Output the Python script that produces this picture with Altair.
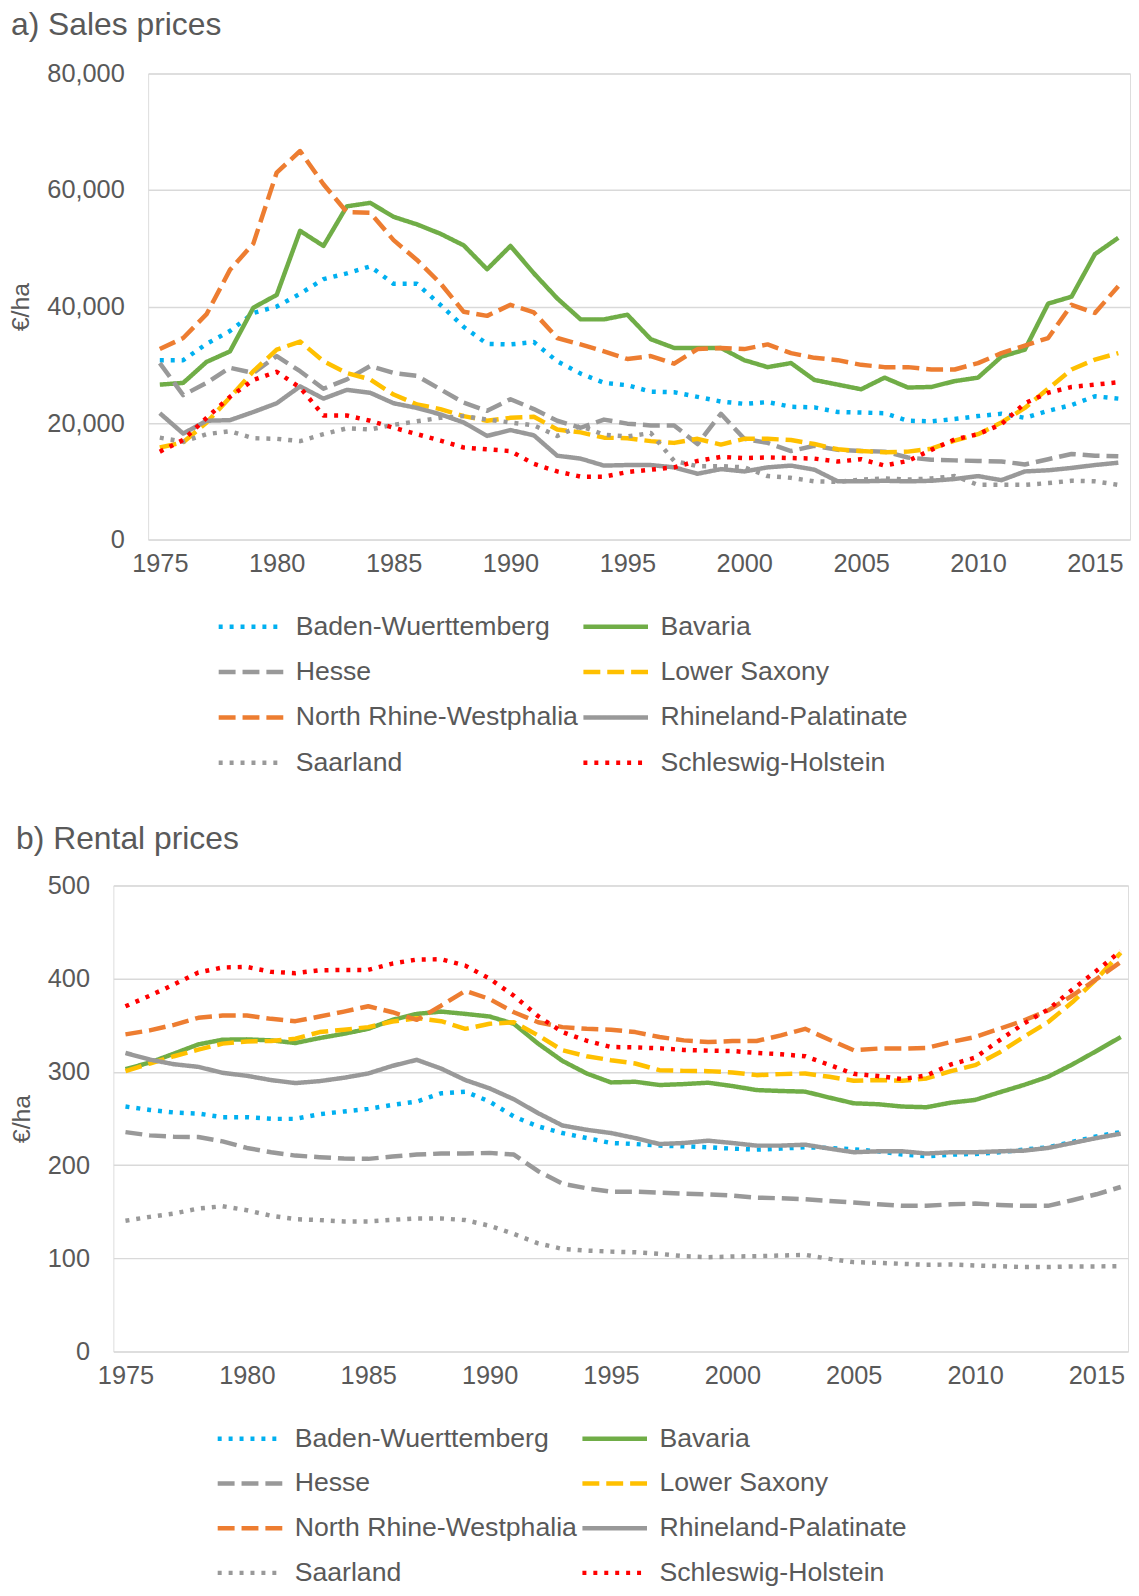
import altair as alt
import pandas as pd

FONT = "Liberation Sans"
TXT = "#595959"

years = list(range(1975, 2017))
states = ["Baden-Wuerttemberg", "Bavaria", "Hesse", "Lower Saxony",
          "North Rhine-Westphalia", "Rhineland-Palatinate", "Saarland", "Schleswig-Holstein"]
colors = ["#00B0F0", "#70AD47", "#999999", "#FFC000", "#ED7D31", "#999999", "#999999", "#FF0000"]
dashes = [[4, 7], [1, 0], [17, 7], [17, 7], [17, 7], [1, 0], [4, 7], [4, 7]]

# a) Sales prices (EUR/ha)
sales_bw = [30800, 30800, 33600, 35800, 38900, 40000, 42200, 44700, 45700, 46900, 43900, 43900, 40300, 36500,
            33600, 33500, 33900, 30600, 28500, 26900, 26500, 25400, 25300, 24500, 23700, 23300, 23600, 22800,
            22700, 21900, 21800, 21700, 20400, 20300, 20700, 21200, 21600, 20900, 22100, 23100, 24600, 24200]
sales_by = [26600, 26900, 30500, 32300, 39800, 42000, 53000, 50400, 57200, 57800, 55400, 54100, 52500, 50500,
            46400, 50400, 45700, 41400, 37800, 37800, 38600, 34400, 32900, 32900, 32900, 30800, 29600, 30300,
            27400, 26600, 25800, 27800, 26100, 26200, 27200, 27800, 31400, 32600, 40500, 41700, 49000, 51800]
sales_he = [30300, 24800, 26900, 29500, 28600, 31500, 28900, 25900, 27500, 29800, 28600, 28100, 25800, 23500,
            22100, 24100, 22400, 20400, 19200, 20600, 19900, 19600, 19600, 16400, 21600, 17300, 16600, 15200,
            16100, 15400, 15200, 15100, 14100, 13700, 13600, 13500, 13400, 12900, 13800, 14700, 14400, 14300]
sales_ls = [15800, 16700, 20100, 24400, 28900, 32600, 34000, 30600, 28600, 27500, 24900, 23200, 22400, 21200,
            20400, 20900, 21100, 18900, 18400, 17500, 17400, 16900, 16600, 17300, 16300, 17300, 17300, 17100,
            16400, 15500, 15200, 15000, 15100, 15600, 17000, 18100, 20100, 22600, 25900, 29200, 30900, 32000]
sales_nrw = [32700, 34600, 38700, 46300, 50800, 63000, 66700, 61000, 56200, 56100, 51400, 48000, 44000, 39100,
             38400, 40300, 39000, 34600, 33500, 32300, 31000, 31500, 30200, 32700, 32900, 32700, 33500, 32000,
             31200, 30800, 30000, 29600, 29600, 29200, 29200, 30300, 32000, 33300, 34600, 40300, 38900, 43500]
sales_rp = [21700, 18200, 20400, 20500, 21900, 23400, 26300, 24200, 25700, 25200, 23400, 22600, 21500, 20100,
            17800, 18800, 17900, 14400, 13900, 12700, 12800, 12800, 12400, 11300, 12100, 11700, 12400, 12700,
            12000, 10000, 10000, 10100, 10000, 10100, 10400, 10900, 10200, 11700, 11900, 12300, 12800, 13200]
sales_sl = [17500, 16800, 18100, 18600, 17400, 17300, 16900, 18100, 19100, 18900, 19700, 20300, 20900, 21200,
            20600, 20100, 19600, 17800, 19500, 18000, 17700, 18300, 13500, 12600, 12600, 12400, 10900, 10600,
            10000, 9900, 10300, 10500, 10300, 10500, 10900, 9400, 9400, 9400, 9700, 10100, 10000, 9400]
sales_sh = [15100, 17100, 20900, 24500, 27400, 28800, 26100, 21300, 21300, 20400, 19200, 18100, 17000, 15800,
            15500, 15200, 13000, 11700, 10800, 10800, 11600, 12000, 12400, 13500, 14200, 14000, 14100, 14000,
            13900, 13400, 13800, 12700, 13500, 15400, 17200, 18100, 19800, 23400, 25200, 26200, 26600, 27000]

# b) Rental prices (EUR/ha)
rent_bw = [262.8, 259.2, 256.4, 255.3, 251.4, 251.4, 249.6, 249.6, 254.6, 257.5, 260.3, 264.6, 268.1, 277.0,
           278.8, 268.1, 252.1, 241.5, 234.4, 229.0, 223.7, 222.6, 220.9, 220.2, 219.1, 217.7, 216.6, 217.7,
           219.1, 218.4, 217.0, 214.8, 211.3, 209.5, 211.3, 212.0, 213.8, 216.6, 219.1, 224.8, 230.8, 235.4]
rent_by = [302.9, 310.0, 319.6, 329.5, 334.5, 334.9, 333.8, 331.0, 336.3, 340.9, 346.2, 355.8, 362.2, 364.7,
           362.2, 359.4, 351.6, 330.3, 311.8, 298.3, 288.7, 289.4, 285.9, 286.9, 288.4, 284.8, 280.5, 279.5,
           278.8, 272.4, 266.3, 265.3, 262.8, 262.1, 267.0, 269.9, 278.0, 285.9, 294.7, 307.9, 322.4, 337.4]
rent_he = [235.4, 231.9, 230.5, 230.1, 225.5, 218.4, 213.8, 210.2, 208.5, 207.0, 206.7, 209.2, 211.3, 212.4,
           212.4, 213.1, 211.3, 193.5, 180.0, 175.1, 171.5, 171.5, 170.5, 169.4, 168.7, 167.3, 165.1, 164.4,
           163.4, 161.6, 159.8, 158.0, 156.3, 156.3, 158.0, 158.7, 157.3, 156.3, 156.3, 162.3, 168.7, 176.5]
rent_ls = [300.8, 309.0, 316.8, 323.9, 330.3, 332.7, 333.1, 335.6, 342.7, 345.2, 348.0, 354.0, 357.6, 354.4,
           346.2, 351.6, 353.3, 339.1, 323.2, 316.8, 312.5, 309.0, 301.8, 301.1, 300.8, 299.4, 296.5, 297.6,
           298.3, 294.7, 290.5, 291.2, 290.5, 293.0, 300.8, 307.2, 320.7, 337.4, 353.3, 374.6, 399.5, 427.9]
rent_nrw = [340.2, 344.5, 350.5, 358.0, 360.4, 360.4, 356.9, 354.4, 359.4, 364.7, 370.4, 364.0, 355.8, 371.0,
            387.0, 378.2, 364.0, 353.3, 348.0, 346.2, 345.2, 342.7, 337.4, 333.8, 332.0, 333.1, 333.1, 339.1,
            346.2, 334.5, 323.2, 325.0, 325.0, 325.6, 332.0, 337.4, 346.2, 355.1, 365.8, 381.7, 399.5, 418.0]
rent_rp = [320.3, 313.2, 308.2, 305.4, 299.0, 295.8, 291.2, 288.0, 290.1, 293.7, 298.3, 306.5, 312.9, 303.6,
           291.2, 282.3, 270.6, 255.7, 242.5, 237.9, 234.4, 229.0, 222.6, 223.7, 226.2, 223.7, 220.9, 220.9,
           221.9, 217.7, 213.8, 214.8, 214.8, 212.4, 213.8, 213.8, 214.8, 215.5, 218.4, 223.7, 229.0, 233.7]
rent_sl = [140.3, 144.5, 148.1, 153.4, 155.9, 151.6, 145.6, 142.0, 141.0, 139.6, 139.6, 141.3, 142.8, 142.8,
           141.0, 134.9, 126.1, 116.1, 110.1, 108.3, 107.2, 106.5, 104.8, 102.3, 101.2, 101.9, 102.3, 103.0,
           103.7, 99.4, 95.9, 95.2, 94.1, 93.0, 93.4, 92.3, 91.6, 90.6, 90.6, 91.3, 91.3, 91.6]
rent_sh = [370.4, 381.7, 393.8, 406.6, 412.0, 412.6, 407.3, 405.9, 409.0, 409.4, 409.4, 416.2, 420.5, 420.8,
           414.0, 400.0, 381.7, 359.7, 342.7, 333.4, 326.7, 326.3, 325.3, 323.5, 322.8, 322.4, 320.3, 318.9,
           316.8, 307.5, 297.9, 295.5, 292.3, 296.2, 307.9, 315.3, 333.8, 351.6, 366.8, 388.1, 408.4, 429.7]

sales = [sales_bw, sales_by, sales_he, sales_ls, sales_nrw, sales_rp, sales_sl, sales_sh]
rent = [rent_bw, rent_by, rent_he, rent_ls, rent_nrw, rent_rp, rent_sl, rent_sh]

x_ticks = list(range(1975, 2016, 5))
y_ticks_a = [0, 20000, 40000, 60000, 80000]
y_ticks_b = [0, 100, 200, 300, 400, 500]


def to_long(series):
    rows = []
    for k, (s, vals) in enumerate(zip(states, series)):
        for y, v in zip(years, vals):
            rows.append({"year": y, "state": s, "value": v, "order": k})
    return pd.DataFrame(rows)


def panel(series, ticks, fmt, title, title_offset, title_dx, width, x_max, legend_x, legend_y, row_pad):
    leg = alt.Legend(orient="none", legendX=legend_x, legendY=legend_y, columns=2, direction="horizontal",
                     title=None, symbolType="M-1,0H4.2", symbolSize=625, symbolStrokeWidth=4.5,
                     labelFontSize=26.8, labelFont=FONT, labelColor=TXT, labelOffset=50,
                     columnPadding=-4, rowPadding=row_pad, labelLimit=500, padding=0)
    return alt.Chart(to_long(series)).mark_line(strokeWidth=4.5, strokeJoin="round").encode(
        x=alt.X("year:Q", scale=alt.Scale(domain=[1974.5, x_max], nice=False, zero=False),
                axis=alt.Axis(values=x_ticks, format="d", grid=False, domain=False, ticks=False,
                              labelFontSize=25.5, labelFont=FONT, labelColor=TXT, labelPadding=12,
                              title=None, labelFlush=False)),
        y=alt.Y("value:Q", scale=alt.Scale(domain=[ticks[0], ticks[-1]], nice=False),
                axis=alt.Axis(values=ticks, format=fmt, gridColor="#D9D9D9", gridWidth=1.5,
                              domain=False, ticks=False, labelFontSize=25.5, labelFont=FONT,
                              labelColor=TXT, labelPadding=24, title="€/ha", titleFontSize=25,
                              titleFont=FONT, titleColor=TXT, titleFontWeight="normal",
                              titlePadding=13)),
        color=alt.Color("state:N", scale=alt.Scale(domain=states, range=colors), legend=leg),
        strokeDash=alt.StrokeDash("state:N", scale=alt.Scale(domain=states, range=dashes), legend=leg),
        order=alt.Order("order:Q"),
        detail="state:N",
    ).properties(
        width=width, height=469,
        title=alt.TitleParams(title, anchor="start", frame="bounds", fontSize=32, font=FONT,
                              color=TXT, fontWeight="normal", offset=title_offset, dx=title_dx),
    )


def spacer():
    return alt.Chart(pd.DataFrame({"v": [0]})).mark_point(opacity=0, size=0, strokeWidth=0).encode(
        x=alt.X("v:Q", axis=None), y=alt.Y("v:Q", axis=None)
    ).properties(width=1, height=1)


chart_a = panel(sales, y_ticks_a, ",.0f", "a) Sales prices", 20, 2, 988, 2016.5, 68.5, 541.5, 16.7)
chart_b = panel(rent, y_ticks_b, "d", "b) Rental prices", 17.5, 6.7, 1021, 2016.3, 102.5, 541.7, 16)

row_a = alt.hconcat(spacer(), chart_a, spacing=0).resolve_scale(
    x="independent", y="independent").resolve_legend(color="independent", strokeDash="independent")
row_b = alt.hconcat(spacer(), chart_b, spacing=0).resolve_scale(
    x="independent", y="independent").resolve_legend(color="independent", strokeDash="independent")

chart = alt.vconcat(row_a, row_b, spacing=46).resolve_scale(
    color="independent", strokeDash="independent", x="independent", y="independent"
).resolve_legend(color="independent", strokeDash="independent").properties(
    padding={"left": -3, "top": -5, "right": 0, "bottom": -7}
).configure_view(stroke="transparent").configure(background="white")

chart.save("out.html", embed_options={"renderer": "svg", "actions": False})
